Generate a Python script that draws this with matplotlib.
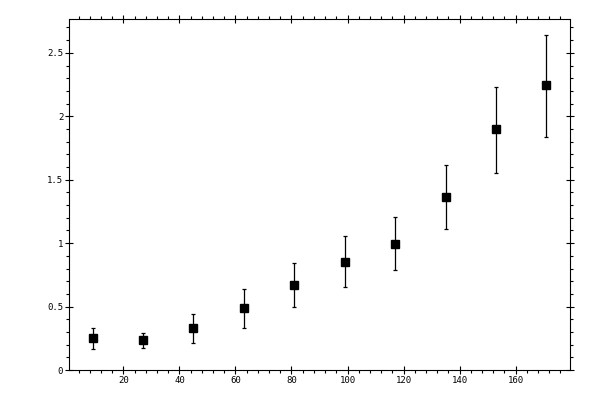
import matplotlib
matplotlib.use("Agg")
import matplotlib.pyplot as plt
from matplotlib.ticker import MultipleLocator

# data
x_vals = [9, 27, 45, 63, 81, 99, 117, 135, 153, 171]
y_vals = [0.253, 0.237, 0.332, 0.490, 0.671, 0.853, 0.995, 1.366, 1.896, 2.243]
y_low = [0.166, 0.174, 0.213, 0.332, 0.498, 0.656, 0.790, 1.114, 1.556, 1.840]
y_high = [0.332, 0.292, 0.442, 0.640, 0.845, 1.053, 1.209, 1.619, 2.232, 2.638]

err_minus = [y - lo for y, lo in zip(y_vals, y_low)]
err_plus = [hi - y for y, hi in zip(y_vals, y_high)]

plt.rcParams['font.family'] = ['DejaVu Sans Mono']

fig = plt.figure(figsize=(6, 4), dpi=100)
ax = fig.add_axes([0.1155, 0.075, 0.835, 0.877])

ax.errorbar(x_vals, y_vals, yerr=[err_minus, err_plus], fmt='s', color='black',
            markersize=5.2, elinewidth=0.9, capsize=1.7, capthick=0.9)

ax.set_xlim(0.7, 179.5)
ax.set_ylim(0, 2.765)

ax.xaxis.set_major_locator(MultipleLocator(20))
ax.xaxis.set_minor_locator(MultipleLocator(4))
ax.yaxis.set_major_locator(MultipleLocator(0.5))
ax.yaxis.set_minor_locator(MultipleLocator(0.1))
ax.yaxis.set_major_formatter(plt.FuncFormatter(lambda v, p: f"{v:g}"))

for s in ax.spines.values():
    s.set_linewidth(0.8)

ax.tick_params(which='major', direction='inout', length=5.8, width=0.8,
               top=True, right=True, labelsize=6.5, pad=1.5)
ax.tick_params(which='minor', direction='out', length=2.2, width=0.8,
               top=True, right=True)

plt.savefig('out.png', dpi=100)
